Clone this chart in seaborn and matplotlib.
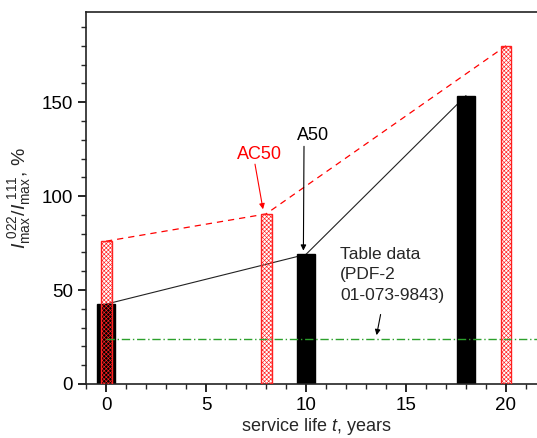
import numpy as np
import pandas as pd
import matplotlib
matplotlib.use("Agg")
import matplotlib.pyplot as plt
import seaborn as sns
from matplotlib.ticker import MultipleLocator

# === Data ===
a50_years = [0, 10, 18]
a50_ratio = [42.5, 69, 153.5]
ac50_years = [0, 8, 20]
ac50_ratio = [76, 90.5, 180]
table_value = 24          # PDF-2 01-073-9843 reference level
table_span = [0, 22]

sns.set_theme(style="ticks")
plt.rcParams['font.family'] = ['Liberation Sans', 'DejaVu Sans']
plt.rcParams['mathtext.fontset'] = 'custom'
plt.rcParams['mathtext.rm'] = 'Liberation Sans'
plt.rcParams['mathtext.it'] = 'Liberation Sans:italic'
plt.rcParams['hatch.linewidth'] = 0.45

fig = plt.figure(figsize=(5.37, 4.38), dpi=100)
ax = fig.add_axes([86 / 537, 54 / 438, 460 / 537, 372 / 438])

a50 = pd.DataFrame({"t": a50_years, "ratio": a50_ratio})
ac50 = pd.DataFrame({"t": ac50_years, "ratio": ac50_ratio})

# connecting lines (under the bars)
sns.lineplot(data=a50, x="t", y="ratio", color="#222222", lw=0.8, ax=ax, zorder=1)
sns.lineplot(data=ac50, x="t", y="ratio", color="red", lw=0.9, ax=ax, zorder=1,
             linestyle=(0, (5, 4)))

# bars, native numeric x scale: width is relative to the min spacing (8 years)
n_before = len(ax.patches)
sns.barplot(data=a50, x="t", y="ratio", native_scale=True, width=0.9 / 8,
            color="black", ax=ax, zorder=2)
for p in ax.patches[n_before:]:
    p.set_facecolor("black")
    p.set_edgecolor("black")

n_before = len(ax.patches)
sns.barplot(data=ac50, x="t", y="ratio", native_scale=True, width=0.55 / 8,
            color="red", ax=ax, zorder=3)
for p in ax.patches[n_before:]:
    p.set_facecolor("none")
    p.set_edgecolor("#ff2020")
    p.set_hatch("xxxxxxxx")
    p.set_linewidth(1.0)

# table data level
ax.plot(table_span, [table_value] * 2, color="#2ca02c", lw=1.0,
        linestyle=(0, (6, 2, 1, 2)), zorder=4)

# annotations
arrow = dict(arrowstyle="-|>", lw=0.8, mutation_scale=8, shrinkA=0, shrinkB=0)
ax.text(7.65, 119.5, "AC50", color="red", fontsize=13, ha="center", va="baseline")
ax.annotate("", xy=(7.85, 93), xytext=(7.45, 117),
            arrowprops=dict(arrow, color="red"))
ax.text(10.35, 130, "A50", color="black", fontsize=13, ha="center", va="baseline")
ax.annotate("", xy=(9.87, 71), xytext=(9.9, 126.5),
            arrowprops=dict(arrow, color="black"))
ax.annotate("", xy=(13.53, 26), xytext=(13.73, 37),
            arrowprops=dict(arrow, color="black"))
ax.text(11.7, 73, "Table data\n(PDF-2\n01-073-9843)", fontsize=12.5, va="top", ha="left",
        linespacing=1.45)

# axes styling
ax.set_xlim(-1, 22)
ax.set_ylim(0, 198)
ax.xaxis.set_major_locator(MultipleLocator(5))
ax.xaxis.set_minor_locator(MultipleLocator(1))
ax.yaxis.set_major_locator(MultipleLocator(50))
ax.yaxis.set_minor_locator(MultipleLocator(10))
ax.tick_params(which="major", direction="out", length=6, width=1.2, labelsize=13.5,
               top=False, right=False, colors="black")
ax.tick_params(which="minor", direction="out", length=3.5, width=1.0,
               top=False, right=False)
for s in ax.spines.values():
    s.set_linewidth(1.2)
    s.set_color("#222222")
ax.spines["top"].set_visible(True)
ax.spines["right"].set_visible(False)
ax.set_xlabel("service life $t$, years", fontsize=13, labelpad=1)
ax.set_ylabel(r"$I_{\rm max}^{\ 022}/I_{\rm max}^{\ 111}$, %", fontsize=14, labelpad=6)

fig.savefig("out.png", dpi=100)
